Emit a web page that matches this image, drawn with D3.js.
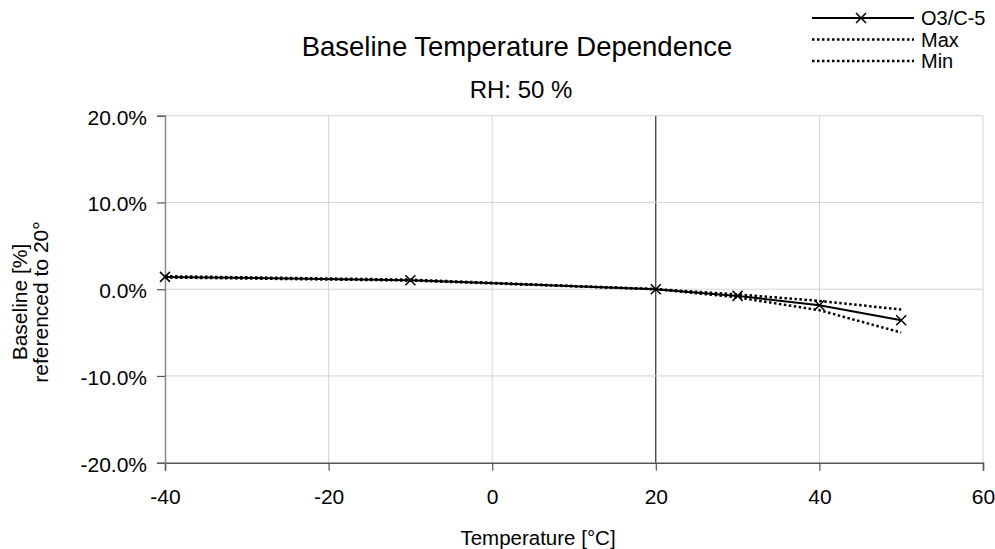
<!DOCTYPE html>
<html><head><meta charset="utf-8">
<script src="https://cdn.jsdelivr.net/npm/d3@7"></script>
<style>body{margin:0;background:#fff}svg{display:block;font-family:"Liberation Sans",Arial,sans-serif}</style>
</head><body>
<svg id="c" width="995" height="549"></svg>
<script>
const temps = [-40, -10, 20, 30, 40, 50];
const o3c5 = [1.42, 1.04, 0.0, -0.77, -1.84, -3.57];
const maxVals = [1.5, 1.1, 0.0, -0.6, -1.35, -2.34];
const minVals = [1.35, 1.0, 0.0, -0.95, -2.42, -5.0];
const xTicks = [-40, -20, 0, 20, 40, 60];
const yTicks = [20, 10, 0, -10, -20];
const title = "Baseline Temperature Dependence";
const subtitle = "RH: 50 %";
const seriesNames = ["O3/C-5", "Max", "Min"];

const svg = d3.select("#c");
const L = 165, R = 983, T = 115.7, B = 462.7;
const x = d3.scaleLinear().domain([-40, 60]).range([L, R]);
const y = d3.scaleLinear().domain([-20, 20]).range([B, T]);
const FONT = "Liberation Sans, Arial, sans-serif";

// grid
svg.append("g").selectAll("line").data(xTicks.filter(d => d !== -40)).join("line")
  .attr("x1", d => x(d)).attr("x2", d => x(d)).attr("y1", T).attr("y2", B)
  .attr("stroke", d => d === 20 ? "#000" : "#d4d4d4").attr("stroke-width", 1);
svg.append("g").selectAll("line").data(yTicks.filter(d => d !== -20)).join("line")
  .attr("x1", L).attr("x2", R).attr("y1", d => y(d)).attr("y2", d => y(d))
  .attr("stroke", "#d4d4d4").attr("stroke-width", 1);

// axes
const xAxis = d3.axisBottom(x).tickValues(xTicks).tickSize(8).tickFormat(d => String(d));
const gx = svg.append("g").attr("transform", `translate(0,${B})`).call(xAxis);
gx.select(".domain").attr("stroke", "#555").attr("stroke-width", 1.5);
gx.selectAll(".tick line").attr("stroke", "#555").attr("stroke-width", 1.2);
gx.selectAll("text").attr("font-size", 21).attr("fill", "#000").attr("y", 0).attr("dy", 0)
  .attr("transform", "translate(0,41)").attr("font-family", FONT);

const yAxis = d3.axisLeft(y).tickValues(yTicks).tickSize(8).tickFormat(d => d.toFixed(1) + "%");
const gy = svg.append("g").attr("transform", `translate(${L},0)`).call(yAxis);
gy.select(".domain").attr("stroke", "#888").attr("stroke-width", 1.5);
gy.selectAll(".tick line").attr("stroke", "#555").attr("stroke-width", 1.2);
gy.selectAll("text").attr("font-size", 21).attr("fill", "#000").attr("x", -18)
  .attr("dy", "0.4em").attr("font-family", FONT);

const line = d3.line().x(d => x(d[0])).y(d => y(d[1]));
const mk = vals => temps.map((t, i) => [t, vals[i]]);

svg.append("path").datum(mk(maxVals)).attr("d", line).attr("fill", "none")
  .attr("stroke", "#000").attr("stroke-width", 2.5).attr("stroke-dasharray", "2.5,2.5");
svg.append("path").datum(mk(minVals)).attr("d", line).attr("fill", "none")
  .attr("stroke", "#000").attr("stroke-width", 2.5).attr("stroke-dasharray", "2.5,2.5");
svg.append("path").datum(mk(o3c5)).attr("d", line).attr("fill", "none")
  .attr("stroke", "#000").attr("stroke-width", 2);

const cross = (g, cx, cy, s) => {
  g.append("path").attr("d", `M${cx - s},${cy - s}L${cx + s},${cy + s}M${cx - s},${cy + s}L${cx + s},${cy - s}`)
    .attr("stroke", "#000").attr("stroke-width", 1.5).attr("fill", "none");
};
const mg = svg.append("g");
mk(o3c5).forEach(d => cross(mg, x(d[0]), y(d[1]), 5));

// titles
svg.append("text").attr("x", 517).attr("y", 56).attr("text-anchor", "middle")
  .attr("font-size", 27.5).text(title);
svg.append("text").attr("x", 521).attr("y", 98).attr("text-anchor", "middle")
  .attr("font-size", 24).text(subtitle);
svg.append("text").attr("x", 538).attr("y", 545).attr("text-anchor", "middle")
  .attr("font-size", 20.5).text("Temperature [°C]");
svg.append("text").attr("transform", "translate(27,302) rotate(-90)").attr("text-anchor", "middle")
  .attr("font-size", 21).text("Baseline [%]");
svg.append("text").attr("transform", "translate(48,302) rotate(-90)").attr("text-anchor", "middle")
  .attr("font-size", 21).text("referenced to 20°");

// legend
const lg = svg.append("g");
const ly = [18, 39.5, 61];
seriesNames.forEach((n, i) => {
  const l = lg.append("line").attr("x1", 812).attr("x2", 914).attr("y1", ly[i]).attr("y2", ly[i])
    .attr("stroke", "#000");
  if (i === 0) { l.attr("stroke-width", 2); cross(lg, 861, ly[i], 5); }
  else l.attr("stroke-width", 2.5).attr("stroke-dasharray", "2.5,2.5");
  lg.append("text").attr("x", 921).attr("y", ly[i] + 7).attr("font-size", 20).text(n);
});
</script>
</body></html>
